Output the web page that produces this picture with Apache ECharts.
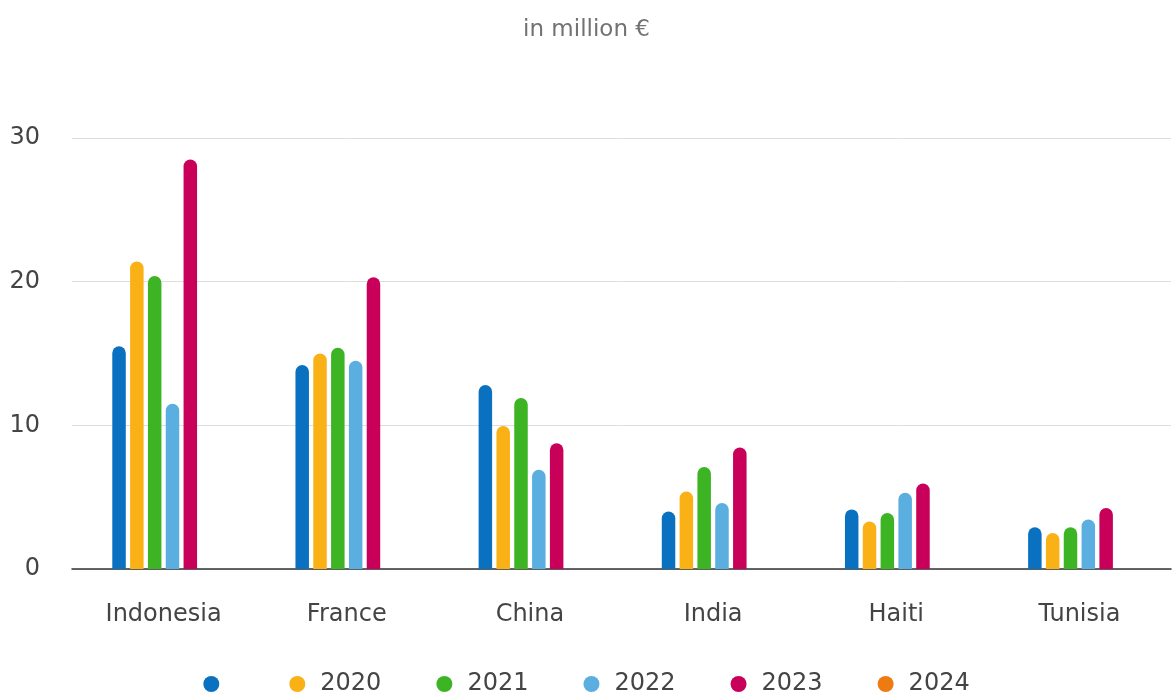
<!DOCTYPE html>
<html>
<head>
<meta charset="utf-8">
<script src="https://cdn.jsdelivr.net/npm/echarts@6/dist/echarts.min.js"></script>
<style>
  html, body { margin: 0; padding: 0; background: #fff; }
  #chart { width: 1173px; height: 695px; }
</style>
</head>
<body>
<div id="chart"></div>
<script>
// Countries on the category axis
var countries = ['Indonesia', 'France', 'China', 'India', 'Haiti', 'Tunisia'];

// Values per year, in million €
var yUnlabelled = [15.5, 14.2, 12.8, 4.0, 4.15, 2.9];
var y2020 = [21.4, 15.0, 9.95, 5.4, 3.3, 2.5];
var y2021 = [20.4, 15.4, 11.9, 7.1, 3.9, 2.9];
var y2022 = [11.5, 14.5, 6.9, 4.6, 5.3, 3.45];
var y2023 = [28.5, 20.3, 8.75, 8.45, 5.95, 4.25];
var y2024 = ['-', '-', '-', '-', '-', '-'];

// Legend names (the first series carries no visible label)
var seriesNames = ['\u200b', '2020', '2021', '2022', '2023', '2024'];
var seriesData = [yUnlabelled, y2020, y2021, y2022, y2023, y2024];
var seriesColors = ['#0a71c0', '#f9b116', '#3db423', '#5aaee0', '#c9005a', '#ee7a12'];

// Value axis ticks
var yMin = 0, yMax = 30, yStep = 10;

var FONT = 'DejaVu Sans';

var series = seriesNames.map(function (name, i) {
  return {
    name: name,
    type: 'bar',
    data: seriesData[i],
    barWidth: 13.5,
    barGap: '32%',
    itemStyle: { color: seriesColors[i], borderRadius: [7, 7, 0, 0] },
    emphasis: { disabled: true }
  };
});

var chart = echarts.init(document.getElementById('chart'), null, { renderer: 'canvas' });
chart.setOption({
  animation: false,
  backgroundColor: '#ffffff',
  title: {
    text: 'in million €',
    left: 'center',
    top: 14,
    textStyle: { fontFamily: FONT, fontSize: 23, fontWeight: 'normal', color: '#727272' }
  },
  legend: {
    bottom: -6,
    left: 'center',
    icon: 'circle',
    itemWidth: 16,
    itemHeight: 16,
    itemGap: 55,
    data: seriesNames,
    selectedMode: false,
    textStyle: { fontFamily: FONT, fontSize: 24, color: '#444', padding: [0, 0, 0, 10] }
  },
  grid: { left: 72, right: 2, top: 138, bottom: 126, containLabel: false },
  xAxis: {
    type: 'category',
    data: countries,
    axisLine: { lineStyle: { color: '#333', width: 1.5 } },
    axisTick: { show: false },
    axisLabel: { fontFamily: FONT, fontSize: 24, color: '#444', margin: 34 }
  },
  yAxis: {
    type: 'value',
    min: yMin,
    max: yMax,
    interval: yStep,
    axisLine: { show: false },
    axisTick: { show: false },
    splitLine: { lineStyle: { color: '#dedede', width: 1 } },
    axisLabel: { fontFamily: FONT, fontSize: 24, color: '#444', margin: 32 }
  },
  series: series
});
</script>
</body>
</html>
